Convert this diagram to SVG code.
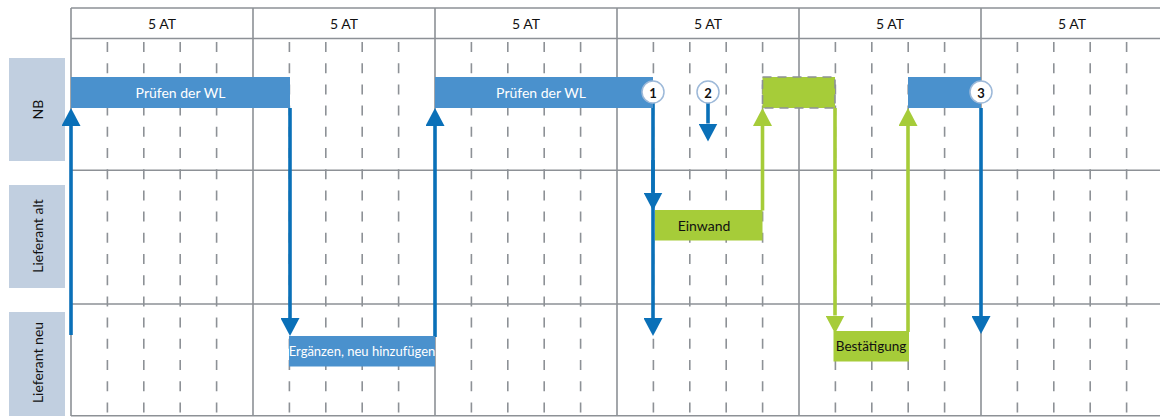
<svg xmlns="http://www.w3.org/2000/svg" width="1160" height="417" viewBox="0 0 1160 417">
<style>
.grid{stroke:#8d9196;stroke-width:1.6;fill:none}
.dash{stroke:#8d9196;stroke-width:1.6;fill:none;stroke-dasharray:10 11.2}
.lab{fill:#c1cfe0}
.t{font-family:Lato,"Liberation Sans",sans-serif;font-size:14px;text-anchor:middle;dominant-baseline:central}
.hd{fill:#111}
.w{fill:#fff}
.k{fill:#111}
.bar{fill:#4a91cd}
.grn{fill:#a6cc39}
.bl{stroke:#0a70b8;stroke-width:3.6;fill:none}
.gl{stroke:#a6cc39;stroke-width:3.6;fill:none}
.circ{fill:#fff;stroke:#9db9d9;stroke-width:1.5}
.num{font-weight:bold;font-size:13px}
</style>
<defs>
<marker id="ab" viewBox="0 0 18 19" refX="0" refY="9.5" markerWidth="18" markerHeight="19" markerUnits="userSpaceOnUse" orient="auto"><path d="M0,0 L18,9.5 L0,19 z" fill="#0a70b8"/></marker>
<marker id="ag" viewBox="0 0 18 19" refX="0" refY="9.5" markerWidth="18" markerHeight="19" markerUnits="userSpaceOnUse" orient="auto"><path d="M0,0 L18,9.5 L0,19 z" fill="#a6cc39"/></marker>
</defs>
<rect width="1160" height="417" fill="#fff"/>
<g id="grid">
<path class="dash" d="M107.4,42V416M143.8,42V416M180.2,42V416M216.6,42V416M289.4,42V416M325.8,42V416M362.2,42V416M398.6,42V416M471.4,42V416M507.8,42V416M544.2,42V416M580.6,42V416M653.4,42V416M689.8,42V416M726.2,42V416M762.6,42V416M835.4,42V416M871.8,42V416M908.2,42V416M944.6,42V416M1017.4,42V416M1053.8,42V416M1090.2,42V416M1126.6,42V416"/>
<path class="grid" d="M71,8H1160M71,38.5H1160M71,170.3H1160M71,304H1160M71,415.8H1160M71,8V416M253,8V416M435,8V416M617,8V416M799,8V416M981,8V416"/>
<text class="t hd" x="162" y="23">5 AT</text>
<text class="t hd" x="344" y="23">5 AT</text>
<text class="t hd" x="526" y="23">5 AT</text>
<text class="t hd" x="708" y="23">5 AT</text>
<text class="t hd" x="890" y="23">5 AT</text>
<text class="t hd" x="1072" y="23">5 AT</text>
</g>
<g id="lane-nb"><rect class="lab" x="9" y="58" width="56" height="103"/><text class="t k" transform="translate(37,109.5) rotate(-90)">NB</text></g>
<g id="lane-alt"><rect class="lab" x="9" y="185" width="56" height="103"/><text class="t k" transform="translate(37,236) rotate(-90)">Lieferant alt</text></g>
<g id="lane-neu"><rect class="lab" x="9" y="312" width="56" height="104"/><text class="t k" transform="translate(37,362.5) rotate(-90)">Lieferant neu</text></g>
<g id="connectors">
<path class="bl" d="M71,335V126" marker-end="url(#ab)"/>
<path class="bl" d="M290,108V318" marker-end="url(#ab)"/>
<path class="bl" d="M435,337V126" marker-end="url(#ab)"/>
<path class="bl" d="M653,100V318" marker-end="url(#ab)"/>
<path class="bl" d="M653,160V192.5" marker-end="url(#ab)"/>
<path class="bl" d="M708,100V123.5" marker-end="url(#ab)"/>
<path class="gl" d="M762.5,210.5V126" marker-end="url(#ag)"/>
<path class="gl" d="M835,108V315.5" marker-end="url(#ag)"/>
<path class="gl" d="M908,332V126" marker-end="url(#ag)"/>
<path class="bl" d="M981,108V316" marker-end="url(#ab)"/>
</g>
<g id="pruefen-1"><rect class="bar" x="71" y="77" width="219" height="31"/><text class="t w" x="180.5" y="92.5">Prüfen der WL</text></g>
<g id="pruefen-2"><rect class="bar" x="435" y="77" width="218" height="31"/><text class="t w" x="541" y="92.5">Prüfen der WL</text></g>
<g id="green-box"><rect class="grn" x="762.5" y="77" width="72.5" height="31" stroke="#8d9196" stroke-width="1.6" stroke-dasharray="9 6"/></g>
<g id="bar-3"><rect class="bar" x="908" y="77" width="73" height="31"/></g>
<g id="circle-1"><circle class="circ" cx="653" cy="92" r="11"/><text class="t k num" x="653" y="92.5">1</text></g>
<g id="circle-2"><circle class="circ" cx="708" cy="92" r="11"/><text class="t k num" x="708" y="92.5">2</text></g>
<g id="circle-3"><circle class="circ" cx="981" cy="92" r="11"/><text class="t k num" x="981" y="92.5">3</text></g>
<g id="einwand"><rect class="grn" x="655" y="210" width="107.5" height="30.5"/><text class="t k" x="704" y="225">Einwand</text></g>
<g id="ergaenzen"><rect class="bar" x="289" y="336" width="146" height="30.5"/><text class="t w" x="362" y="351" style="font-size:13px">Ergänzen, neu hinzufügen</text></g>
<g id="bestaetigung"><rect class="grn" x="833.5" y="331" width="75.5" height="30.5"/><text class="t k" x="871" y="346" style="font-size:13.5px">Bestätigung</text></g>
</svg>
